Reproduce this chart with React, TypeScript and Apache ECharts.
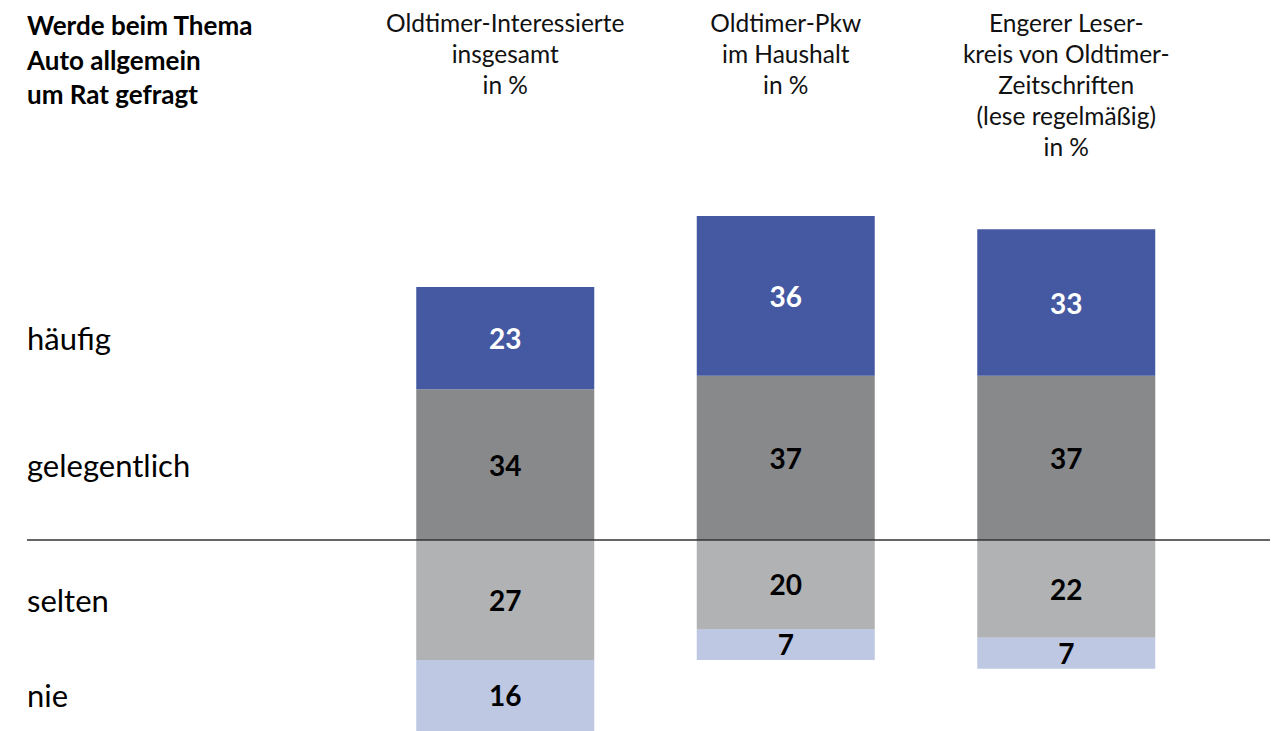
import React, { useEffect, useRef } from "react";
import * as echarts from "echarts";

const categories = [
  "Oldtimer-Interessierte\ninsgesamt\nin %",
  "Oldtimer-Pkw\nim Haushalt\nin %",
  "Engerer Leser-\nkreis von Oldtimer-\nZeitschriften\n(lese regelmäßig)\nin %",
];
const haeufig = [23, 36, 33];
const gelegentlich = [34, 37, 37];
const selten = [27, 20, 22];
const nie = [16, 7, 7];
const rowLabels = ["häufig", "gelegentlich", "selten", "nie"];
const title = "Werde beim Thema\nAuto allgemein\num Rat gefragt";

const FONT = "Lato, 'Open Sans', sans-serif";

export default function App() {
  const ref = useRef<HTMLDivElement>(null);
  useEffect(() => {
    if (!ref.current) return;
    const chart = echarts.init(ref.current, null, { renderer: "svg" });
    const lbl = (color: string) => ({
      show: true,
      position: "inside",
      color,
      fontFamily: FONT,
      fontWeight: "bold",
      fontSize: 28,
      formatter: (p: any) => String(Math.abs(p.value)),
    });
    chart.setOption({
      animation: false,
      grid: { left: 365, right: 79.5, top: 216, bottom: 0, containLabel: false },
      xAxis: {
        type: "category",
        data: categories,
        show: false,
      },
      yAxis: { type: "value", min: -43, max: 73, show: false },
      series: [
        {
          name: "gelegentlich",
          type: "bar",
          stack: "a",
          barWidth: 178,
          data: gelegentlich,
          itemStyle: { color: "#88898B" },
          label: lbl("#000"),
        },
        {
          name: "häufig",
          type: "bar",
          stack: "a",
          barWidth: 178,
          data: haeufig,
          itemStyle: { color: "#4459A1" },
          label: lbl("#fff"),
        },
        {
          name: "selten",
          type: "bar",
          stack: "a",
          barWidth: 178,
          data: selten.map((v) => -v),
          itemStyle: { color: "#B1B2B4" },
          label: lbl("#000"),
        },
        {
          name: "nie",
          type: "bar",
          stack: "a",
          barWidth: 178,
          data: nie.map((v) => -v),
          itemStyle: { color: "#BEC8E3" },
          label: lbl("#000"),
        },
      ],
    });

    const yPix = (v: number) => chart.convertToPixel({ gridIndex: 0 }, [0, v])[1];
    const xPix = (i: number) => chart.convertToPixel({ gridIndex: 0 }, [i, 0])[0];
    const rowCenters = [
      gelegentlich[0] + haeufig[0] / 2,
      gelegentlich[0] / 2,
      -selten[0] / 2,
      -selten[0] - nie[0] / 2,
    ];
    const graphics: any[] = [];
    rowLabels.forEach((t, i) => {
      graphics.push({
        type: "text",
        x: 27,
        y: yPix(rowCenters[i]),
        style: {
          text: t,
          fill: "#000",
          font: `400 31px ${FONT}`,
          textAlign: "left",
          textVerticalAlign: "middle",
        },
      });
    });
    categories.forEach((c, i) => {
      graphics.push({
        type: "text",
        x: xPix(i),
        y: 7,
        style: {
          text: c,
          fill: "#111",
          font: `400 24.5px ${FONT}`,
          lineHeight: 31,
          textAlign: "center",
          textVerticalAlign: "top",
        },
      });
    });
    graphics.push({
      type: "text",
      x: 27,
      y: 8,
      style: {
        text: title,
        fill: "#000",
        font: `700 26px ${FONT}`,
        lineHeight: 34.5,
        textAlign: "left",
        textVerticalAlign: "top",
      },
    });
    graphics.push({
      type: "line",
      z: 100,
      shape: { x1: 27, y1: yPix(0), x2: 1270, y2: yPix(0) },
      style: { stroke: "#333", lineWidth: 1.5 },
    });
    chart.setOption({ graphic: graphics });
    return () => chart.dispose();
  }, []);
  return (
    <div
      ref={ref}
      style={{ position: "fixed", left: 0, top: 0, width: 1286, height: 731, background: "#fff" }}
    />
  );
}
